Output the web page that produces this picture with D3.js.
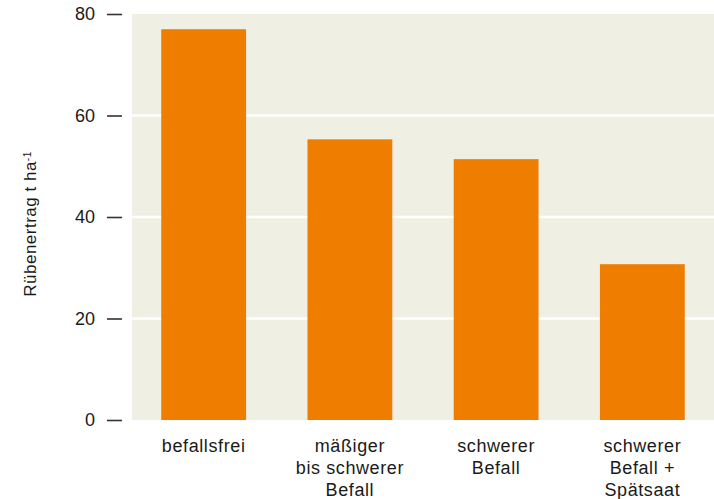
<!DOCTYPE html>
<html>
<head>
<meta charset="utf-8">
<script src="https://cdnjs.cloudflare.com/ajax/libs/d3/7.8.5/d3.min.js"></script>
<style>
    body { margin: 0; background: #fff; }
    svg { font-family: "Liberation Sans", Arial, sans-serif; }
</style>
</head>
<body>
<div id="chart"></div>
<script>
// data
const categories = [
    ["befallsfrei"],
    ["mäßiger", "bis schwerer", "Befall"],
    ["schwerer", "Befall"],
    ["schwerer", "Befall +", "Spätsaat"]
];
const yields = [77, 55.3, 51.4, 30.7];
const yTicks = [0, 20, 40, 60, 80];

const width = 714, height = 499;
const margin = {top: 14, right: 0, bottom: 79, left: 132};

let svg = d3.select("#chart").append("svg")
    .attr("width", width)
    .attr("height", height);

let x = d3.scaleBand()
    .domain(d3.range(categories.length))
    .range([margin.left, width - margin.right])
    .paddingInner(0.42)
    .paddingOuter(0.2);

let y = d3.scaleLinear()
    .domain([0, 80])
    .range([height - margin.bottom, margin.top]);

// plot background
svg.append("rect")
    .attr("x", margin.left)
    .attr("y", y(80))
    .attr("width", width - margin.right - margin.left)
    .attr("height", y(0) - y(80))
    .attr("fill", "#f0efe4");

// white gridlines
svg.append("g")
    .selectAll("line")
    .data(yTicks.filter(d => d > 0 && d < 80))
    .enter().append("line")
    .attr("x1", margin.left)
    .attr("x2", width - margin.right)
    .attr("y1", d => y(d))
    .attr("y2", d => y(d))
    .attr("stroke", "#fff")
    .attr("stroke-width", 2.5);

// bars
svg.append("g")
    .selectAll("rect")
    .data(yields)
    .enter().append("rect")
    .attr("x", (d, i) => x(i))
    .attr("y", d => y(d))
    .attr("width", x.bandwidth())
    .attr("height", d => y(0) - y(d))
    .attr("fill", "#ef7d00");

// y axis, ticks detached from the plot
let yAxis = d3.axisLeft(y)
    .tickValues(yTicks)
    .tickSize(15)
    .tickPadding(12);

let yg = svg.append("g")
    .attr("transform", "translate(" + (margin.left - 10) + ",0)")
    .call(yAxis);
yg.select(".domain").remove();
yg.selectAll(".tick line").attr("stroke", "#333").attr("stroke-width", 1.6);
yg.selectAll(".tick text")
    .attr("fill", "#1a1a1a")
    .style("font-size", "18px");

// category labels (multi-line)
let labels = svg.append("g")
    .selectAll("text")
    .data(categories)
    .enter().append("text")
    .attr("text-anchor", "middle")
    .attr("fill", "#1a1a1a")
    .style("font-size", "18px")
    .style("letter-spacing", "0.6px")
    .attr("transform", (d, i) => "translate(" + (x(i) + x.bandwidth() / 2) + "," + 452 + ")");

labels.selectAll("tspan")
    .data(d => d)
    .enter().append("tspan")
    .attr("x", 0)
    .attr("y", (d, i) => i * 22)
    .text(d => d);

// y axis title
let title = svg.append("text")
    .attr("transform", "translate(36," + 224 + ") rotate(-90)")
    .attr("text-anchor", "middle")
    .attr("fill", "#1a1a1a")
    .style("font-size", "17px")
    .style("letter-spacing", "0.5px");
title.append("tspan").text("Rübenertrag t ha");
title.append("tspan")
    .attr("dy", "-0.55em")
    .style("font-size", "10px")
    .text("-1");
</script>
</body>
</html>
